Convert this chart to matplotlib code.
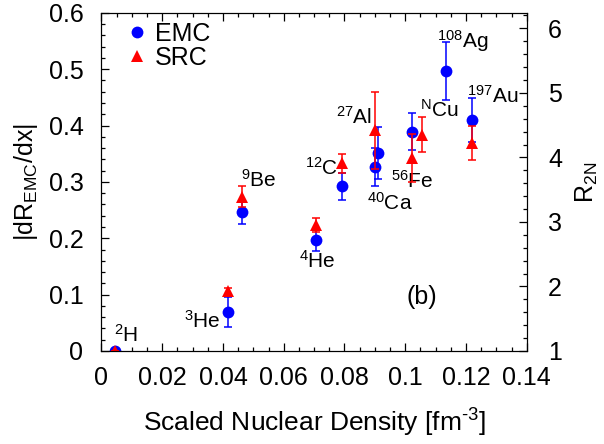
import numpy as np
import matplotlib
matplotlib.use("Agg")
import matplotlib.pyplot as plt
from matplotlib.ticker import MultipleLocator, FuncFormatter

plt.rcParams['font.family'] = ['Liberation Sans', 'DejaVu Sans']
plt.rcParams['mathtext.fontset'] = 'custom'
plt.rcParams['mathtext.rm'] = 'Liberation Sans'
plt.rcParams['mathtext.it'] = 'Liberation Sans:italic'
plt.rcParams['mathtext.bf'] = 'Liberation Sans:bold'

# ---- data ----
emc_nuclei = ['2H', '3He', '4He', '9Be', '12C', '27Al', '40Ca', '56Fe', '108Ag', '197Au']
emc_density = [0.0044, 0.0417, 0.0705, 0.0464, 0.0793, 0.0900, 0.0911, 0.1024, 0.1133, 0.1219]
emc_slope = [0.0, 0.069, 0.197, 0.2465, 0.2927, 0.327, 0.3507, 0.389, 0.4966, 0.4097]
emc_err = [0.0, 0.027, 0.02, 0.021, 0.024, 0.034, 0.046, 0.033, 0.052, 0.039]

src_nuclei = ['2H', '3He', '4He', '9Be', '12C', '27Al', '56Fe', 'NCu', '197Au']
src_density = [0.0044, 0.0417, 0.0705, 0.0464, 0.0793, 0.0900, 0.1024, 0.1054, 0.1219]
src_r2n = [1.0, 1.93, 2.95, 3.39, 3.91, 4.42, 3.99, 4.35, 4.22]
src_err = [0.0, 0.05, 0.11, 0.16, 0.15, 0.60, 0.37, 0.27, 0.26]

# label text and offsets (points) relative to their anchor point
labels = [
    (r'$^{2}$H', 'emc', '2H', (8, 11.5)),
    (r'$^{3}$He', 'emc', '3He', (-18.5, -6)),
    (r'$^{4}$He', 'emc', '4He', (1.4, -15)),
    (r'$^{9}$Be', 'emc', '9Be', (11.7, 23)),
    (r'$^{12}$C', 'emc', '12C', (-15, 13)),
    (r'$^{27}$Al', 'emc', '40Ca', (-17.5, 26)),
    (r'$^{40}$Ca', 'emc', '27Al', (10.5, -26)),
    (r'$^{56}$Fe', 'emc', '56Fe', (0, -35)),
    (r'$^{\mathrm{N}}$Cu', 'src', 'NCu', (13, 18)),
    (r'$^{108}$Ag', 'emc', '108Ag', (12.5, 22)),
    (r'$^{197}$Au', 'emc', '197Au', (15, 17.5)),
]

x_ticks = [0, 0.02, 0.04, 0.06, 0.08, 0.1, 0.12, 0.14]
y_ticks = [0, 0.1, 0.2, 0.3, 0.4, 0.5, 0.6]
r_ticks = [1, 2, 3, 4, 5, 6]

fig = plt.figure(figsize=(6.04, 4.44), dpi=100)
ax = fig.add_axes([0.168, 0.2095, 0.704, 0.7615])
ax2 = ax.twinx()

blue = '#0000ff'
red = '#ff0000'

ax.errorbar(emc_density, emc_slope, yerr=emc_err, fmt='none', ecolor=blue,
            elinewidth=1.1, capsize=2.8, capthick=1.1)
h_emc, = ax.plot(emc_density, emc_slope, 'o', color=blue, markersize=8.5,
                 markeredgewidth=0, label='EMC')
ax2.errorbar(src_density, src_r2n, yerr=src_err, fmt='none', ecolor=red,
             elinewidth=1.1, capsize=2.8, capthick=1.1)
h_src, = ax2.plot(src_density, src_r2n, '^', color=red, markersize=8.5,
                  markeredgewidth=0, label='SRC')

ax.set_xlim(0, 0.14)
ax.set_ylim(0, 0.6)
ax2.set_ylim(1, 6.24)

fmt = FuncFormatter(lambda v, p: '%g' % round(v, 4))
ax.set_xticks(x_ticks)
ax.set_yticks(y_ticks)
ax2.set_yticks(r_ticks)
ax.xaxis.set_major_formatter(fmt)
ax.yaxis.set_major_formatter(fmt)
ax2.yaxis.set_major_formatter(fmt)
ax.xaxis.set_minor_locator(MultipleLocator(0.005))
ax.yaxis.set_minor_locator(MultipleLocator(0.02))
ax2.yaxis.set_minor_locator(MultipleLocator(0.2))

ax.tick_params(axis='x', which='both', direction='in', top=True, bottom=True)
ax.tick_params(axis='y', which='both', direction='in', left=True, right=False)
ax2.tick_params(axis='y', which='both', direction='in', right=True)
for a in (ax, ax2):
    a.tick_params(which='major', length=5.5, width=0.9, labelsize=18)
    a.tick_params(which='minor', length=2.8, width=0.9)
ax.tick_params(axis='y', pad=13)
ax.tick_params(axis='x', pad=11)
ax2.tick_params(axis='y', pad=15.5)

ax.set_xlabel('Scaled Nuclear Density [fm$^{\u20103}$]', fontsize=19, labelpad=12)
ax.set_ylabel(r'|dR$_{\mathrm{EMC}}$/dx|', fontsize=18, labelpad=6)
ax2.set_ylabel(r'R$_{\mathrm{2N}}$', fontsize=18, labelpad=8)

for txt, which, key, off in labels:
    if which == 'emc':
        i = emc_nuclei.index(key)
        xy = (emc_density[i], emc_slope[i])
        a = ax
    else:
        i = src_nuclei.index(key)
        xy = (src_density[i], src_r2n[i])
        a = ax2
    a.annotate(txt, xy=xy, xytext=off, textcoords='offset points',
               ha='center', va='center', fontsize=15)

ax.text(0.753, 0.1605, '(b)', transform=ax.transAxes, ha='center', va='center', fontsize=18)

ax2.legend(handles=[h_emc, h_src], loc='upper left', bbox_to_anchor=(0.02, 1.025),
           frameon=False, fontsize=18, handlelength=0.8, handletextpad=0.3,
           labelspacing=0.0, borderaxespad=0.3)

fig.savefig('out.png', dpi=100)
